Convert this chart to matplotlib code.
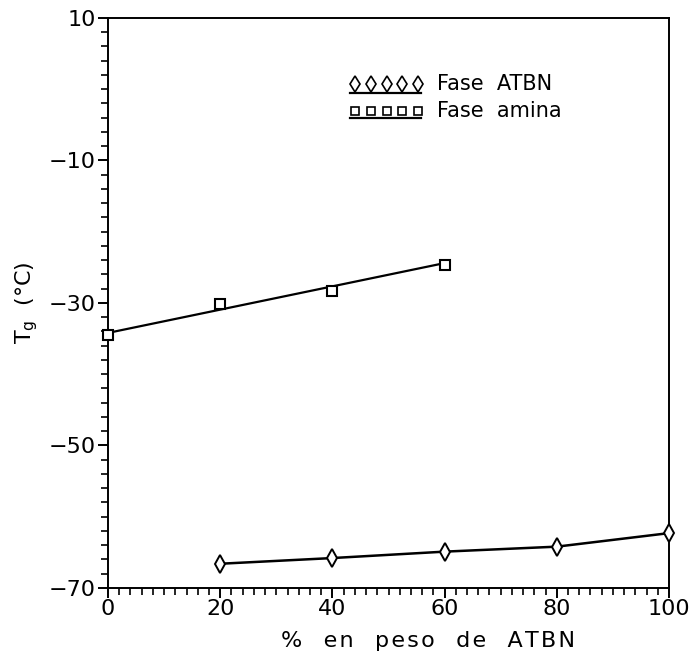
import numpy as np
import matplotlib.pyplot as plt
from matplotlib.ticker import MultipleLocator

# Tg de cada fase frente al contenido de ATBN
atbn_x = [20, 40, 60, 80, 100]
atbn_tg = [-66.6, -65.8, -64.9, -64.2, -62.3]

amina_x = [0, 20, 40, 60]
amina_tg = [-34.5, -30.1, -28.3, -24.6]

# recta ajustada para la fase amina
amina_fit_x = [0, 60]
amina_fit_tg = [-34.2, -24.4]

plt.rcParams['font.family'] = ['DejaVu Sans']

fig = plt.figure(figsize=(6.94, 6.52), dpi=100)
ax = fig.add_axes([0.1556, 0.0982, 0.8084, 0.8742])

ax.plot(atbn_x, atbn_tg, color='black', lw=1.8, zorder=2)
ax.plot(atbn_x, atbn_tg, ls='none', marker='d', ms=9, mfc='white', mec='black',
        mew=1.4, zorder=3, clip_on=False)
ax.plot(amina_fit_x, amina_fit_tg, color='black', lw=1.6, zorder=2)
ax.plot(amina_x, amina_tg, ls='none', marker='s', ms=6.5, mfc='white', mec='black',
        mew=1.5, zorder=3, clip_on=False)

ax.set_xlim(0, 100)
ax.set_ylim(-70, 10)
ax.set_xticks([0, 20, 40, 60, 80, 100])
ax.set_yticks([10, -10, -30, -50, -70])
ax.xaxis.set_minor_locator(MultipleLocator(2))
ax.yaxis.set_minor_locator(MultipleLocator(2))
ax.tick_params(axis='both', which='major', direction='out', length=7, width=1.4,
               labelsize=16, top=False, right=False)
ax.tick_params(axis='both', which='minor', direction='out', length=5, width=1.2,
               top=False, right=False)
ax.tick_params(axis='x', pad=1)
ax.tick_params(axis='y', pad=2)
for s in ax.spines.values():
    s.set_linewidth(1.4)

ax.set_yticklabels(['10', '\u221210', '\u221230', '\u221250', '\u221270'])
hs = '\u200a'
xlab = '   '.join(hs.join(w) for w in ['%', 'en', 'peso', 'de', 'ATBN'])
ax.set_xlabel(xlab, fontsize=16)
ax.xaxis.set_label_coords(0.57, -0.075)
ax.set_ylabel(r'T$_\mathrm{g}$  ($\degree$C)', fontsize=16, labelpad=6)

# leyenda dibujada a mano
lx = np.linspace(0.440, 0.553, 5)
ax.plot(lx, [0.884] * 5, ls='none', marker='d', ms=8, mfc='white', mec='black',
        mew=1.2, transform=ax.transAxes)
ax.plot([0.431, 0.558], [0.869, 0.869], color='black', lw=1.6, transform=ax.transAxes)
ax.text(0.586, 0.884, 'Fase  ATBN', fontsize=15, va='center', transform=ax.transAxes)

ax.plot(lx, [0.837] * 5, ls='none', marker='s', ms=5.5, mfc='white', mec='black',
        mew=1.2, transform=ax.transAxes)
ax.plot([0.431, 0.558], [0.825, 0.825], color='black', lw=1.6, transform=ax.transAxes)
ax.text(0.586, 0.837, 'Fase  amina', fontsize=15, va='center', transform=ax.transAxes)

fig.savefig('out.png', dpi=100)
